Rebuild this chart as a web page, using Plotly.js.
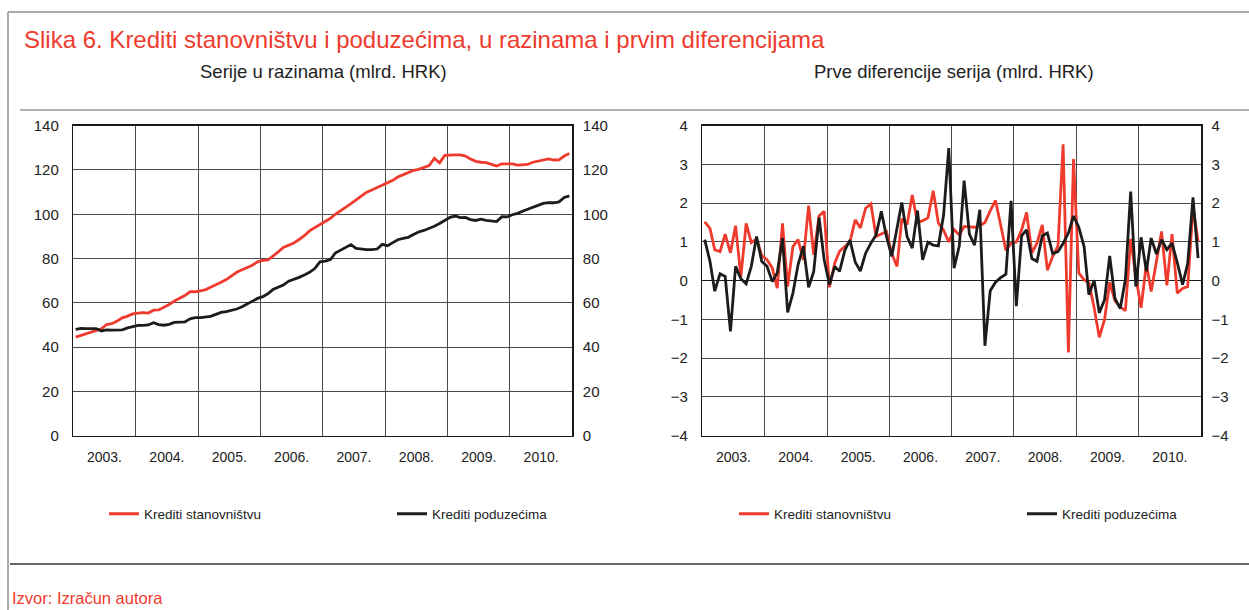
<!DOCTYPE html>
<html>
<head>
<meta charset="utf-8">
<script src="https://cdn.plot.ly/plotly-3.0.1.min.js"></script>
<style>html,body{margin:0;padding:0;background:#fff;overflow:hidden;}#chart{width:1249px;height:610px;}</style>
</head>
<body>
<div id="chart"></div>
<script>
// ---- data (monthly, Jan 2003 - Dec 2010) ----
const years = [2003, 2004, 2005, 2006, 2007, 2008, 2009, 2010];
const seriesNames = ['Krediti stanovništvu', 'Krediti poduzećima'];

// Levels, bn HRK
const levelHouseholds = [
  44.5, 45.3, 46.0, 46.8, 47.6, 48.3, 50.2, 50.6, 51.8, 53.2, 54.0, 55.0,
  55.4, 55.6, 55.4, 56.7, 56.8, 58.0, 59.2, 60.8, 61.9, 63.3, 65.0, 65.0,
  65.4, 66.0, 67.0, 68.0, 69.3, 70.5, 72.2, 73.8, 74.9, 76.0, 77.0, 78.5,
  79.2, 79.4, 81.0, 83.0, 85.0, 86.2, 87.0, 88.6, 90.3, 92.5, 94.0, 95.3,
  96.8, 98.2, 100.0, 101.5, 103.0, 104.8, 106.5, 108.3, 110.0, 111.0, 112.0, 113.0,
  114.0, 115.3, 116.8, 117.8, 118.8, 119.8, 120.3, 121.0, 122.0, 125.3, 123.2, 126.6,
  126.8, 126.8, 126.8, 126.3, 125.0, 123.9, 123.5, 123.3, 122.5, 121.8, 122.8, 122.8,
  122.8, 122.2, 122.5, 122.5, 123.5, 124.0, 124.8, 125.0, 124.5, 124.6, 126.3, 127.5
];
const levelCompanies = [
  48.0, 48.5, 48.4, 48.5, 48.4, 47.3, 47.8, 47.7, 47.6, 47.8, 48.7, 49.4,
  49.8, 49.8, 50.0, 51.0, 50.2, 49.9, 50.3, 51.2, 51.2, 51.4, 52.8, 53.3,
  53.3, 53.6, 53.9, 54.8, 55.7, 56.0, 56.5, 57.2, 58.2, 59.4, 61.0, 62.0,
  62.8, 64.2, 66.0, 67.0, 68.0, 69.8, 70.5, 71.5, 72.6, 73.8, 75.5, 78.5,
  78.8, 79.5, 82.5, 83.8, 85.0, 86.3, 84.6, 84.2, 84.0, 84.0, 84.3, 86.4,
  85.8, 87.2, 88.5, 89.1, 89.6, 90.9, 92.0, 92.7, 93.5, 94.6, 95.8, 97.3,
  98.6, 99.2, 98.5, 98.6, 97.6, 97.2, 97.8, 97.2, 96.8, 96.7, 98.9, 98.8,
  99.8, 100.4, 101.4, 102.2, 103.1, 103.9, 104.9, 105.3, 105.2, 105.6, 107.6, 108.3
];

// First differences, bn HRK
const diffHouseholds = [
  1.52, 1.35, 0.80, 0.75, 1.20, 0.72, 1.42, 0.10, 1.48, 0.98, 1.08, 0.65,
  0.54, 0.33, -0.19, 1.48, -0.15, 0.88, 1.06, 0.54, 1.94, 0.67, 1.67, 1.79,
  -0.17, 0.45, 0.76, 0.88, 1.00, 1.57, 1.36, 1.87, 1.98, 1.14, 1.20, 1.27,
  0.70, 0.37, 1.60, 1.45, 2.21, 1.50, 1.55, 1.62, 2.32, 1.49, 1.30, 1.00,
  1.32, 1.18, 1.40, 1.38, 1.38, 1.42, 1.50, 1.80, 2.07, 1.44, 0.78, 0.97,
  1.00, 1.31, 1.76, 0.72, 0.97, 1.44, 0.27, 0.63, 0.90, 3.52, -1.85, 3.14,
  0.20, 0.02, -0.05, -0.70, -1.46, -1.00, -0.04, -0.52, -0.68, -0.77, 1.08, 0.11,
  -0.70, 0.43, -0.28, 0.50, 1.27, -0.12, 1.20, -0.32, -0.20, -0.15, 1.88, 1.02
];
const diffCompanies = [
  1.06, 0.50, -0.27, 0.18, 0.11, -1.31, 0.37, 0.05, -0.08, 0.37, 1.14, 0.50,
  0.37, -0.02, 0.20, 1.10, -0.82, -0.32, 0.41, 0.89, -0.17, 0.24, 1.63, 0.54,
  -0.10, 0.37, 0.24, 0.78, 1.05, 0.48, 0.25, 0.71, 0.97, 1.18, 1.79, 1.14,
  0.63, 1.40, 2.02, 1.14, 0.84, 1.81, 0.54, 0.99, 0.92, 0.90, 1.70, 3.42,
  0.32, 0.90, 2.58, 1.20, 0.92, 1.83, -1.68, -0.26, -0.04, 0.08, 0.17, 2.06,
  -0.66, 1.16, 1.31, 0.57, 0.50, 1.16, 1.23, 0.70, 0.75, 0.96, 1.23, 1.67,
  1.38, 0.88, -0.36, 0.01, -0.83, -0.49, 0.64, -0.46, -0.72, 0.03, 2.30, -0.15,
  1.12, 0.24, 1.10, 0.69, 1.06, 0.80, 0.97, 0.47, -0.10, 0.44, 2.15, 0.58
];

// month dates (mid-month)
const dates = [];
years.forEach(y => { for (let m = 1; m <= 12; m++) dates.push(y + '-' + String(m).padStart(2, '0') + '-15'); });

// ---- styling ----
const W = 1249, H = 610;
const px = x => x / W, py = y => 1 - y / H;
const RED = '#ee3b2e', BLACK = '#1c1c1c';
const NARROW = '"Liberation Sans Narrow", "Arial Narrow", "Liberation Sans", Arial, sans-serif';
const SANS = '"Liberation Sans", Arial, Helvetica, sans-serif';
const GRID = '#4a4a4a';

const yDom = [py(435.7), py(125.7)];
const xDomL = [px(73.3), px(572.3)];
const xDomR = [px(702.3), px(1201)];

const traces = [
  {x: dates, y: levelHouseholds, name: seriesNames[0], type: 'scatter', mode: 'lines', line: {color: RED, width: 2.8}, xaxis: 'x', yaxis: 'y', legend: 'legend'},
  {x: dates, y: levelCompanies, name: seriesNames[1], type: 'scatter', mode: 'lines', line: {color: BLACK, width: 2.8}, xaxis: 'x', yaxis: 'y', legend: 'legend'},
  {x: dates, y: diffHouseholds, name: seriesNames[0], type: 'scatter', mode: 'lines', line: {color: RED, width: 2.8}, xaxis: 'x2', yaxis: 'y2', legend: 'legend2'},
  {x: dates, y: diffCompanies, name: seriesNames[1], type: 'scatter', mode: 'lines', line: {color: BLACK, width: 2.8}, xaxis: 'x2', yaxis: 'y2', legend: 'legend2'}
];

const xRange = [years[0] + '-01-01', (years[years.length - 1] + 1) + '-01-01'];
function xAxis(domain, anchor) {
  return {
    domain: domain, anchor: anchor, type: 'date', range: xRange,
    tick0: years[0] + '-01-01', dtick: 'M12', ticklabelmode: 'period', tickformat: '%Y.',
    showgrid: true, gridcolor: GRID, gridwidth: 1,
    showline: true, linecolor: '#1a1a1a', linewidth: 1.5, mirror: true,
    ticks: 'outside', ticklen: 8, tickcolor: 'rgba(0,0,0,0)',
    tickfont: {family: NARROW, size: 14, color: '#222'}, fixedrange: true
  };
}
function yAxis(domain, anchor, range, dtick, side, overlay) {
  const a = {
    domain: domain, anchor: anchor, range: range, dtick: dtick, tick0: 0, side: side,
    showgrid: !overlay, gridcolor: GRID, gridwidth: 1,
    zeroline: false,
    showline: true, linecolor: '#1a1a1a', linewidth: 1.5,
    ticks: 'outside', ticklen: overlay ? 6 : 10, tickcolor: 'rgba(0,0,0,0)',
    tickfont: {family: SANS, size: 15, color: '#222'}, fixedrange: true
  };
  if (overlay) a.overlaying = overlay;
  return a;
}

const ann = [
  {text: 'Slika 6. Krediti stanovništvu i poduzećima, u razinama i prvim diferencijama', x: px(22), y: py(40), xanchor: 'left', yanchor: 'middle', font: {family: SANS, size: 24, color: RED}},
  {text: 'Serije u razinama (mlrd. HRK)', x: px(323), y: py(72), xanchor: 'center', yanchor: 'middle', font: {family: SANS, size: 18.5, color: '#222'}},
  {text: 'Prve diferencije serija (mlrd. HRK)', x: px(954), y: py(72), xanchor: 'center', yanchor: 'middle', font: {family: SANS, size: 18.5, color: '#222'}},
  {text: 'Izvor: Izračun autora', x: px(10), y: py(598), xanchor: 'left', yanchor: 'middle', font: {family: NARROW, size: 16.5, color: RED}}
].map(a => Object.assign({xref: 'paper', yref: 'paper', showarrow: false}, a));

const shapes = [
  {x0: px(8), x1: 1, y0: py(12), y1: py(12), line: {color: '#8e8e8e', width: 1.5}},
  {x0: px(8), x1: px(8), y0: py(12), y1: 0, line: {color: '#8e8e8e', width: 1.5}},
  {x0: px(20), x1: 1, y0: py(110), y1: py(110), line: {color: '#9a9a9a', width: 1.5}},
  {x0: px(10), x1: 1, y0: py(564), y1: py(564), line: {color: '#333', width: 1.5}}
].map(s => Object.assign({type: 'line', xref: 'paper', yref: 'paper'}, s));

const legendBase = {orientation: 'h', xanchor: 'left', yanchor: 'middle', y: py(514),
  font: {family: NARROW, size: 13.5, color: '#222'}, bgcolor: 'rgba(0,0,0,0)',
  entrywidth: 243, entrywidthmode: 'pixels', itemwidth: 30, tracegroupgap: 0};

const layout = {
  width: W, height: H, margin: {l: 0, r: 0, t: 0, b: 0, autoexpand: false},
  paper_bgcolor: '#fff', plot_bgcolor: '#fff', showlegend: true,
  font: {family: SANS, color: '#222'},
  xaxis: xAxis(xDomL, 'y'),
  yaxis: Object.assign(yAxis(yDom, 'x', [0, 140], 20, 'left', null), {mirror: true}),
  yaxis3: yAxis(yDom, 'x', [0, 140], 20, 'right', 'y'),
  xaxis2: xAxis(xDomR, 'y2'),
  yaxis2: Object.assign(yAxis(yDom, 'x2', [-4, 4], 1, 'left', null), {mirror: true, zeroline: true, zerolinecolor: '#1a1a1a', zerolinewidth: 1.5}),
  yaxis4: yAxis(yDom, 'x2', [-4, 4], 1, 'right', 'y2'),
  legend: Object.assign({}, legendBase, {x: px(104)}),
  legend2: Object.assign({}, legendBase, {x: px(734)}),
  annotations: ann, shapes: shapes
};

// invisible placeholder traces so that the right-hand tick axes render
traces.push({x: [dates[0]], y: [null], xaxis: 'x', yaxis: 'y3', showlegend: false, hoverinfo: 'skip', type: 'scatter', mode: 'lines'});
traces.push({x: [dates[0]], y: [null], xaxis: 'x2', yaxis: 'y4', showlegend: false, hoverinfo: 'skip', type: 'scatter', mode: 'lines'});

Plotly.newPlot('chart', traces, layout, {displayModeBar: false, staticPlot: true});
</script>
</body>
</html>
